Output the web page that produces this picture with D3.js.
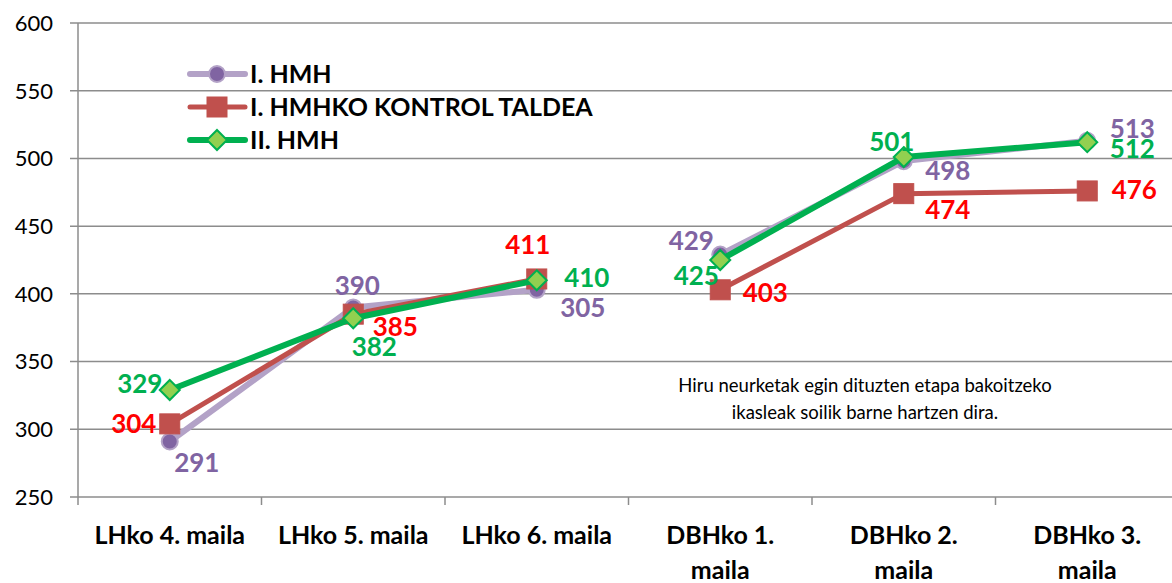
<!DOCTYPE html>
<html>
<head>
<meta charset="utf-8">
<title>Chart</title>
<script src="https://d3js.org/d3.v7.min.js"></script>
<style>
  body { margin: 0; background: #fff; }
  svg { display: block; font-family: Lato, "Open Sans", sans-serif; }
</style>
</head>
<body>
<script>
const categories = ["LHko 4. maila", "LHko 5. maila", "LHko 6. maila", "DBHko 1. maila", "DBHko 2. maila", "DBHko 3. maila"];
const stages = ["LH", "LH", "LH", "DBH", "DBH", "DBH"];
const hmh1 = [291, 390, 403, 429, 498, 513];
const hmh1Labels = ["291", "390", "305", "429", "498", "513"];
const control = [304, 385, 411, 403, 474, 476];
const hmh2 = [329, 382, 410, 425, 501, 512];
const yTicks = [250, 300, 350, 400, 450, 500, 550, 600];
const note = ["Hiru neurketak egin dituzten etapa bakoitzeko", "ikasleak soilik barne hartzen dira."];

const width = 1172, height = 583;

const svg = d3.select("body").append("svg")
  .attr("width", width)
  .attr("height", height);

const x = d3.scaleBand()
  .domain(categories)
  .range([78, 1179]);

const y = d3.scaleLinear()
  .domain([250, 600])
  .range([497, 23]);

const cx = d => x(d) + x.bandwidth() / 2;

// grid lines
svg.selectAll(".grid")
  .data(yTicks)
  .enter().append("line")
    .attr("x1", 70)
    .attr("x2", width)
    .attr("y1", d => y(d))
    .attr("y2", d => y(d))
    .style("stroke", "#8c8c8c")
    .style("stroke-width", 1.5);

svg.append("line")
  .attr("x1", 78).attr("x2", 78)
  .attr("y1", y(600)).attr("y2", y(250) + 8)
  .style("stroke", "#8c8c8c")
  .style("stroke-width", 1.5);

svg.selectAll(".ytick")
  .data(yTicks)
  .enter().append("text")
    .attr("x", 53)
    .attr("y", d => y(d))
    .attr("dy", "0.36em")
    .attr("text-anchor", "end")
    .style("font-size", "22px")
    .style("fill", "#000")
    .text(d => d);

// x ticks
svg.selectAll(".xtick")
  .data(categories.slice(1))
  .enter().append("line")
    .attr("x1", d => x(d)).attr("x2", d => x(d))
    .attr("y1", y(250)).attr("y2", y(250) + 8)
    .style("stroke", "#8c8c8c")
    .style("stroke-width", 1.5);

svg.selectAll(".xlabel")
  .data(categories)
  .enter().append("text")
    .attr("text-anchor", "middle")
    .style("font-size", "25px")
    .style("font-weight", "bold")
    .each(function(d, i) {
      const t = d3.select(this);
      const lines = i < 3 ? [d] : [d.replace(" maila", ""), "maila"];
      lines.forEach((s, j) => {
        t.append("tspan").attr("x", cx(d)).attr("y", 544 + j * 35).text(s);
      });
    });

const series = [
  { name: "I. HMH", values: hmh1, labels: hmh1Labels, line: "#b3a2c7", lw: 6, color: "#8064a2",
    marker: "circle",
    offs: [[27, 21], [4, -22], [46, 18], [-29, -14], [44, 10], [45, -12]] },
  { name: "I. HMHKO KONTROL TALDEA", values: control, labels: control.map(String), line: "#c0504d", lw: 5, color: "#ff0000",
    marker: "square",
    offs: [[-36, 0], [42, 12], [-9, -34], [45, 3], [44, 16], [47, -1]] },
  { name: "II. HMH", values: hmh2, labels: hmh2.map(String), line: "#00b050", lw: 6, color: "#00b050",
    marker: "diamond",
    offs: [[-30, -6], [21, 28], [50, -3], [-24, 16], [-12, -15], [45, 6]] }
];

function drawMarker(g, type, px, py) {
  if (type === "circle") {
    g.append("circle").attr("cx", px).attr("cy", py).attr("r", 8)
      .style("fill", "#8064a2").style("stroke", "#b3a2c7").style("stroke-width", 2);
  } else if (type === "square") {
    g.append("rect").attr("x", px - 10).attr("y", py - 10).attr("width", 20).attr("height", 20)
      .style("fill", "#c0504d").style("stroke", "#c0504d").style("stroke-width", 1);
  } else {
    g.append("path").attr("d", `M${px},${py - 10}L${px + 10},${py}L${px},${py + 10}L${px - 10},${py}Z`)
      .style("fill", "#92d050").style("stroke", "#00b050").style("stroke-width", 2);
  }
}

const line = d3.line()
  .x(i => cx(categories[i]))
  .y(i => y(i.v));

series.forEach(s => {
  const g = svg.append("g");
  // one segment per school stage (no line between LH and DBH)
  const groups = d3.groups(d3.range(categories.length), i => stages[i]);
  groups.forEach(([, idx]) => {
    g.append("path")
      .attr("d", d3.line().x(i => cx(categories[i])).y(i => y(s.values[i]))(idx))
      .style("fill", "none")
      .style("stroke", s.line)
      .style("stroke-width", s.lw)
      .style("stroke-linejoin", "round");
  });
  s.values.forEach((v, i) => drawMarker(g, s.marker, cx(categories[i]), y(v)));
});

// data labels
series.forEach(s => {
  svg.append("g").selectAll("text")
    .data(s.values)
    .enter().append("text")
      .attr("x", (d, i) => cx(categories[i]) + s.offs[i][0])
      .attr("y", (d, i) => y(d) + s.offs[i][1])
      .attr("dy", "0.36em")
      .attr("text-anchor", "middle")
      .style("font-size", "26px")
      .style("font-weight", "bold")
      .style("fill", s.color)
      .text((d, i) => s.labels[i]);
});

// legend
const legend = svg.append("g");
series.forEach((s, i) => {
  const ly = 74 + i * 33;
  legend.append("line")
    .attr("x1", 190).attr("x2", 245)
    .attr("y1", ly).attr("y2", ly)
    .style("stroke", s.line)
    .style("stroke-width", s.lw)
    .style("stroke-linecap", "round");
  drawMarker(legend, s.marker, 217, ly);
  legend.append("text")
    .attr("x", 250).attr("y", ly)
    .attr("dy", "0.36em")
    .style("font-size", "25px")
    .style("font-weight", "bold")
    .text(s.name);
});

// note
svg.append("text")
  .attr("text-anchor", "middle")
  .style("font-size", "18.5px")
  .selectAll("tspan")
  .data(note)
  .enter().append("tspan")
    .attr("x", 865)
    .attr("y", (d, i) => 392 + i * 27)
    .text(d => d);
</script>
</body>
</html>
